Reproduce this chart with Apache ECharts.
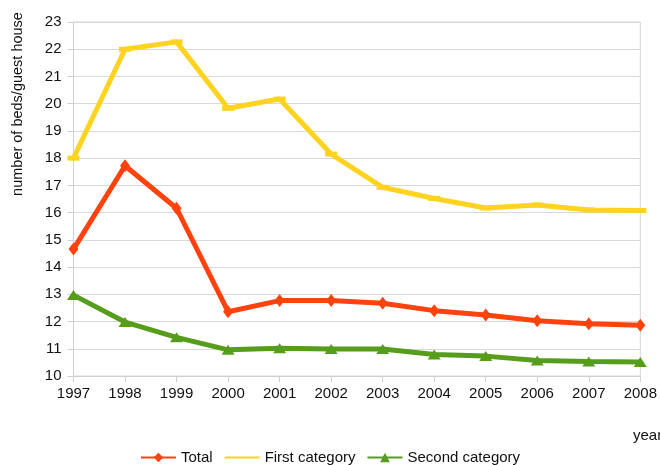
<!DOCTYPE html>
<html>
<head>
<meta charset="utf-8">
<script src="https://cdn.jsdelivr.net/npm/echarts@6/dist/echarts.min.js"></script>
<style>html,body{margin:0;padding:0;background:#fff}#c{width:660px;height:465px}</style>
</head>
<body>
<div id="c"></div>
<script>
var years = ['1997','1998','1999','2000','2001','2002','2003','2004','2005','2006','2007','2008'];
var total = [14.66, 17.72, 16.16, 12.36, 12.77, 12.77, 12.67, 12.4, 12.24, 12.03, 11.92, 11.86];
var firstCategory = [18.0, 22.0, 22.27, 19.83, 20.17, 18.15, 16.93, 16.52, 16.17, 16.28, 16.1, 16.08];
var secondCategory = [12.97, 11.98, 11.42, 10.96, 11.02, 10.99, 10.99, 10.79, 10.73, 10.57, 10.53, 10.51];
var seriesNames = ['Total', 'First category', 'Second category'];
var yAxisTitle = 'number of beds/guest house';
var xAxisTitle = 'year';

var FONT = '"Liberation Sans", Arial, sans-serif';
var FS = 15;
var chart = echarts.init(document.getElementById('c'), null, {renderer: 'canvas'});
chart.setOption({
  animation: false,
  backgroundColor: '#fff',
  textStyle: {fontFamily: FONT},
  grid: {left: 73.5, right: 18, top: 22, bottom: 89, show: true, borderColor: '#d6d6d6', borderWidth: 1, backgroundColor: 'transparent'},
  legend: {
    bottom: -5, left: 'center',
    itemWidth: 35, itemHeight: 12, itemGap: 11,
    textStyle: {fontFamily: FONT, fontSize: FS, color: '#111'},
    data: [
      {name: seriesNames[0]},
      {name: seriesNames[1], itemStyle: {opacity: 0}},
      {name: seriesNames[2]}
    ]
  },
  xAxis: {
    type: 'category', data: years, boundaryGap: false,
    axisLine: {lineStyle: {color: '#d0d0d0', width: 1}},
    axisTick: {show: true, length: 6, lineStyle: {color: '#d0d0d0'}},
    axisLabel: {fontFamily: FONT, fontSize: FS, color: '#111', margin: 10, showMaxLabel: true, showMinLabel: true},
    splitLine: {show: false}
  },
  yAxis: {
    type: 'value', min: 10, max: 23, interval: 1,
    axisLine: {show: true, lineStyle: {color: '#d0d0d0', width: 1}},
    axisTick: {show: true, length: 6, lineStyle: {color: '#d0d0d0'}},
    axisLabel: {fontFamily: FONT, fontSize: FS, color: '#111', margin: 12},
    splitLine: {show: true, lineStyle: {color: '#d9d9d9', width: 1}}
  },
  graphic: [
    {type: 'text', x: 17.5, y: 104, rotation: Math.PI/2,
      style: {text: yAxisTitle, fontFamily: FONT, fontSize: 14.5, fill: '#111', align: 'center', verticalAlign: 'middle'}},
    {type: 'text', x: 633, y: 436,
      style: {text: xAxisTitle, fontFamily: FONT, fontSize: FS, fill: '#111', align: 'left', verticalAlign: 'middle'}}
  ],
  series: [
    {name: seriesNames[0], type: 'line', data: total, color: '#ff420e',
      lineStyle: {width: 5, color: '#ff420e'}, symbol: 'diamond', symbolSize: [10, 13],
      itemStyle: {color: '#ff420e'}},
    {name: seriesNames[1], type: 'line', data: firstCategory, color: '#ffd320',
      lineStyle: {width: 5, color: '#ffd320'}, symbol: 'rect', symbolSize: [12, 5],
      itemStyle: {color: '#ffd320'}, z: 1},
    {name: seriesNames[2], type: 'line', data: secondCategory, color: '#579d1c',
      lineStyle: {width: 5, color: '#579d1c'}, symbol: 'triangle', symbolSize: [13, 10],
      itemStyle: {color: '#579d1c'}}
  ]
});
</script>
</body>
</html>
